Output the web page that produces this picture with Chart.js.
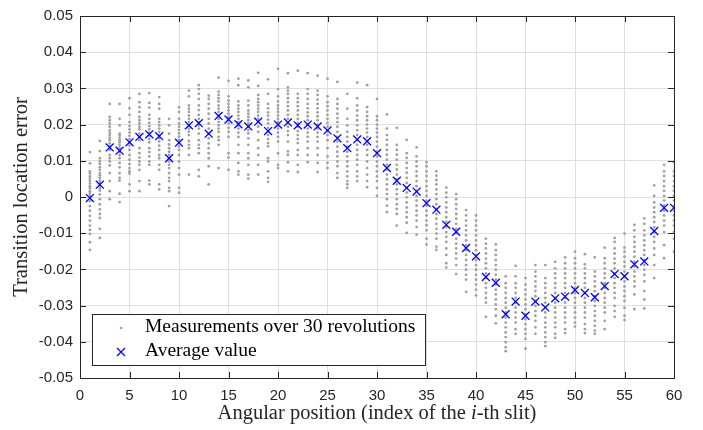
<!DOCTYPE html>
<html>
<head>
<meta charset="utf-8">
<script src="https://cdn.jsdelivr.net/npm/chart.js@4.4.1/dist/chart.umd.min.js"></script>
<style>
  html, body { margin: 0; padding: 0; background: #fff; }
  #wrap { width: 703px; height: 430px; }
</style>
</head>
<body>
<div id="wrap"><canvas id="chart" width="703" height="430"></canvas></div>
<script>
const slits = [1, 2, 3, 4, 5, 6, 7, 8, 9, 10, 11, 12, 13, 14, 15, 16, 17, 18, 19, 20,
  21, 22, 23, 24, 25, 26, 27, 28, 29, 30, 31, 32, 33, 34, 35, 36, 37, 38, 39, 40,
  41, 42, 43, 44, 45, 46, 47, 48, 49, 50, 51, 52, 53, 54, 55, 56, 57, 58, 59, 60];

const averages = [
  -0.0003, 0.0034, 0.0137, 0.0128, 0.0151, 0.0166, 0.0173, 0.0168, 0.0107, 0.0150,
  0.0198, 0.0204, 0.0175, 0.0224, 0.0214, 0.0201, 0.0195, 0.0208, 0.0182, 0.0200,
  0.0206, 0.0198, 0.0200, 0.0195, 0.0184, 0.0162, 0.0135, 0.0159, 0.0154, 0.0121,
  0.0080, 0.0045, 0.0025, 0.0015, -0.0017, -0.0035, -0.0077, -0.0096, -0.0141, -0.0164,
  -0.0221, -0.0237, -0.0324, -0.0289, -0.0328, -0.0289, -0.0305, -0.0280, -0.0275, -0.0257,
  -0.0265, -0.0277, -0.0246, -0.0213, -0.0219, -0.0186, -0.0178, -0.0094, -0.0030, -0.0030
];

// visible dots of each slit (30 revolutions, many overlap)
const measurements = [
  [0.0124, 0.0093, 0.0071, 0.0065, 0.0057, 0.0051, 0.0044, 0.0037, 0.003, 0.0024, 0.0016, 0.001, 0.0003, -0.0011, -0.0025, -0.0038, -0.0052, -0.0065, -0.0079, -0.0091, -0.0102, -0.0125, -0.0146],
  [0.0155, 0.0127, 0.0107, 0.0098, 0.0091, 0.0082, 0.0075, 0.0066, 0.006, 0.0053, 0.0045, 0.0039, 0.0032, 0.0025, 0.0018, 0.0007, -0.0006, -0.002, -0.0034, -0.0047, -0.0058, -0.0088, -0.0113],
  [0.0257, 0.0221, 0.0212, 0.0203, 0.0194, 0.0185, 0.0178, 0.0171, 0.0164, 0.0157, 0.0148, 0.0139, 0.013, 0.0116, 0.0107, 0.0098, 0.0087, 0.0066, 0.0044, 0.0016, -0.0006],
  [0.0257, 0.0216, 0.0198, 0.0175, 0.0171, 0.0164, 0.0157, 0.0151, 0.0144, 0.0136, 0.013, 0.0124, 0.0116, 0.0107, 0.0094, 0.0082, 0.0066, 0.0053, 0.0045, 0.0009, -0.0014],
  [0.0273, 0.0245, 0.0227, 0.0207, 0.0196, 0.0187, 0.0178, 0.0169, 0.016, 0.0151, 0.0142, 0.013, 0.0116, 0.0103, 0.0091, 0.008, 0.0071, 0.0065, 0.0035, 0.0016],
  [0.0285, 0.0262, 0.0248, 0.0235, 0.0221, 0.0212, 0.0203, 0.0194, 0.0187, 0.0175, 0.0166, 0.0157, 0.0135, 0.0121, 0.0109, 0.0098, 0.0089, 0.0075, 0.0044, 0.0016],
  [0.0287, 0.026, 0.0247, 0.0227, 0.0216, 0.0205, 0.0196, 0.0187, 0.0178, 0.0169, 0.016, 0.0151, 0.0135, 0.0124, 0.0112, 0.0098, 0.0089, 0.0045, 0.0035],
  [0.0276, 0.0257, 0.0244, 0.0216, 0.0207, 0.0198, 0.0189, 0.018, 0.0171, 0.0162, 0.0153, 0.0142, 0.013, 0.0116, 0.0107, 0.0089, 0.0075, 0.0035, 0.0021],
  [0.0216, 0.0198, 0.0175, 0.0157, 0.0145, 0.0135, 0.0125, 0.0116, 0.0107, 0.0098, 0.0089, 0.008, 0.0066, 0.0053, 0.0044, 0.0025, 0.0016, -0.0025],
  [0.0248, 0.0235, 0.0216, 0.0203, 0.0194, 0.0185, 0.0176, 0.0167, 0.0158, 0.0149, 0.014, 0.013, 0.0116, 0.0098, 0.008, 0.0062, 0.0025, 0.0012],
  [0.0294, 0.0278, 0.0253, 0.0244, 0.0235, 0.0225, 0.0216, 0.0207, 0.0198, 0.0189, 0.018, 0.0171, 0.0155, 0.0144, 0.0135, 0.0116, 0.0062],
  [0.0309, 0.0298, 0.0285, 0.0271, 0.0253, 0.024, 0.0227, 0.0216, 0.0207, 0.0198, 0.0189, 0.0175, 0.0157, 0.0144, 0.0135, 0.0121, 0.0075, 0.0057],
  [0.028, 0.0271, 0.0257, 0.0244, 0.023, 0.0216, 0.0203, 0.0189, 0.0175, 0.0162, 0.0148, 0.0135, 0.0121, 0.0107, 0.0085, 0.0035],
  [0.033, 0.0291, 0.0282, 0.0273, 0.0264, 0.0253, 0.0244, 0.0235, 0.0225, 0.0216, 0.0207, 0.0198, 0.0189, 0.018, 0.0166, 0.0157, 0.0144, 0.008],
  [0.0321, 0.0278, 0.0266, 0.0257, 0.0248, 0.0239, 0.023, 0.0221, 0.0212, 0.0203, 0.0191, 0.018, 0.0166, 0.0121, 0.0109, 0.0075],
  [0.0327, 0.0309, 0.0264, 0.0253, 0.0244, 0.0235, 0.0225, 0.0216, 0.0207, 0.0198, 0.0189, 0.0178, 0.0166, 0.0144, 0.0121, 0.0094, 0.0071, 0.0062],
  [0.0322, 0.0303, 0.0266, 0.0253, 0.0239, 0.023, 0.0221, 0.0212, 0.0203, 0.0194, 0.0185, 0.0176, 0.0162, 0.0144, 0.0121, 0.0107, 0.0089, 0.0062, 0.0051],
  [0.0343, 0.0307, 0.0282, 0.0271, 0.0262, 0.0253, 0.0244, 0.0235, 0.0225, 0.0216, 0.0207, 0.0194, 0.018, 0.0157, 0.0135, 0.0116, 0.0089, 0.0062],
  [0.0325, 0.0285, 0.0257, 0.0245, 0.0234, 0.0225, 0.0214, 0.0203, 0.0191, 0.018, 0.0171, 0.016, 0.0149, 0.014, 0.0107, 0.0098, 0.0071, 0.0053, 0.0042],
  [0.0354, 0.0298, 0.0278, 0.0264, 0.0253, 0.0244, 0.0235, 0.0225, 0.0216, 0.0207, 0.0198, 0.0189, 0.0178, 0.0166, 0.0153, 0.0121, 0.0089, 0.008],
  [0.0342, 0.0303, 0.0294, 0.0285, 0.0273, 0.0262, 0.0251, 0.0239, 0.0227, 0.0216, 0.0205, 0.0194, 0.0182, 0.0171, 0.0153, 0.0126, 0.0116, 0.0096, 0.0071],
  [0.0349, 0.0285, 0.0273, 0.0262, 0.0251, 0.0239, 0.0227, 0.0216, 0.0205, 0.0194, 0.0182, 0.0171, 0.016, 0.0149, 0.013, 0.0116, 0.0089, 0.0069],
  [0.0342, 0.0298, 0.0285, 0.0271, 0.0257, 0.0245, 0.0234, 0.0223, 0.0212, 0.02, 0.0189, 0.0178, 0.0166, 0.0153, 0.0135, 0.0116, 0.0096],
  [0.0335, 0.0294, 0.0282, 0.0269, 0.0257, 0.0245, 0.0234, 0.0223, 0.0212, 0.02, 0.0189, 0.0178, 0.0166, 0.0153, 0.0135, 0.0116, 0.0094, 0.0069],
  [0.0327, 0.0278, 0.0262, 0.0251, 0.0239, 0.0227, 0.0216, 0.0205, 0.0194, 0.0182, 0.0171, 0.0157, 0.0135, 0.0112, 0.0094, 0.008],
  [0.0318, 0.0271, 0.0257, 0.0244, 0.023, 0.0218, 0.0207, 0.0194, 0.018, 0.0166, 0.0153, 0.0139, 0.0125, 0.0112, 0.0098, 0.0085, 0.0066, 0.0053],
  [0.0285, 0.0244, 0.0216, 0.0198, 0.018, 0.0166, 0.0153, 0.0139, 0.0125, 0.0112, 0.0098, 0.0085, 0.0071, 0.0057, 0.0044, 0.0035, 0.0025],
  [0.0316, 0.0273, 0.0253, 0.0239, 0.0225, 0.0212, 0.0198, 0.0185, 0.0171, 0.0157, 0.0144, 0.013, 0.0116, 0.0103, 0.0089, 0.0071, 0.0057, 0.0044],
  [0.0309, 0.0248, 0.0235, 0.0223, 0.0212, 0.02, 0.0189, 0.0178, 0.0166, 0.0155, 0.0144, 0.013, 0.0116, 0.0098, 0.008, 0.0062, 0.0044, 0.0027],
  [0.0271, 0.0223, 0.0212, 0.02, 0.0189, 0.0178, 0.0166, 0.0153, 0.0139, 0.0125, 0.0112, 0.0098, 0.0085, 0.0071, 0.0057, 0.0044, 0.0025, 0.0003],
  [0.0228, 0.0189, 0.0171, 0.0158, 0.0144, 0.013, 0.0117, 0.0103, 0.0089, 0.0076, 0.0062, 0.0049, 0.0035, 0.0021, 0.0008, -0.0006, -0.0024, -0.0042],
  [0.0191, 0.0144, 0.013, 0.0117, 0.0103, 0.0089, 0.0076, 0.0062, 0.0049, 0.0035, 0.0021, 0.0008, -0.0006, -0.002, -0.0033, -0.0047, -0.0079],
  [0.0158, 0.0121, 0.0108, 0.0094, 0.008, 0.0067, 0.0053, 0.0039, 0.0026, 0.0012, -0.0001, -0.0015, -0.0029, -0.0042, -0.0056, -0.0071, -0.0099],
  [0.0137, 0.0112, 0.0098, 0.0085, 0.0071, 0.0058, 0.0044, 0.003, 0.0017, 0.0003, -0.001, -0.0024, -0.0038, -0.0051, -0.0065, -0.0083, -0.0104],
  [0.0096, 0.0085, 0.0071, 0.0058, 0.0044, 0.003, 0.0017, 0.0003, -0.001, -0.0024, -0.0038, -0.0051, -0.0065, -0.0078, -0.0092, -0.0115, -0.0131],
  [0.0071, 0.0059, 0.0047, 0.0035, 0.0021, 0.0008, -0.0006, -0.002, -0.0033, -0.0047, -0.006, -0.0074, -0.0088, -0.0101, -0.0115, -0.0137, -0.0146],
  [0.0026, 0.0012, -0.0001, -0.0015, -0.0029, -0.0042, -0.0056, -0.0069, -0.0083, -0.0097, -0.011, -0.0124, -0.0142, -0.016, -0.0183, -0.0195],
  [0.0008, -0.0006, -0.002, -0.0033, -0.0047, -0.006, -0.0074, -0.0088, -0.0101, -0.0115, -0.0129, -0.0142, -0.0156, -0.017, -0.0188, -0.0213],
  [-0.0036, -0.0051, -0.0065, -0.0079, -0.0092, -0.0106, -0.012, -0.0133, -0.0147, -0.016, -0.0174, -0.0188, -0.0201, -0.0215, -0.0228, -0.0262],
  [-0.0051, -0.0065, -0.0079, -0.0092, -0.0106, -0.012, -0.0133, -0.0147, -0.016, -0.0174, -0.0188, -0.0201, -0.0215, -0.0228, -0.0242, -0.0256, -0.0272],
  [-0.0115, -0.0129, -0.0142, -0.0156, -0.017, -0.0183, -0.0197, -0.0211, -0.0224, -0.0238, -0.0251, -0.0265, -0.0279, -0.0292, -0.0331],
  [-0.0131, -0.0147, -0.016, -0.0174, -0.0188, -0.0201, -0.0215, -0.0228, -0.0242, -0.0256, -0.0269, -0.0283, -0.0297, -0.031, -0.0328, -0.0349],
  [-0.0219, -0.0238, -0.0251, -0.0265, -0.0279, -0.0292, -0.0306, -0.0319, -0.0333, -0.0347, -0.036, -0.0374, -0.0387, -0.0401, -0.0415, -0.0426],
  [-0.019, -0.0219, -0.0238, -0.0251, -0.0265, -0.0279, -0.0292, -0.0306, -0.0319, -0.0333, -0.0347, -0.0365, -0.0378],
  [-0.0224, -0.0242, -0.0256, -0.0269, -0.0283, -0.0297, -0.031, -0.0324, -0.0338, -0.0351, -0.0365, -0.0378, -0.0392, -0.0419],
  [-0.0188, -0.0206, -0.0219, -0.0233, -0.0247, -0.026, -0.0274, -0.0287, -0.0301, -0.0315, -0.0328, -0.0342, -0.036, -0.0378],
  [-0.0188, -0.0224, -0.0238, -0.0251, -0.0265, -0.0279, -0.0292, -0.0306, -0.0319, -0.0333, -0.0347, -0.036, -0.0374, -0.0387, -0.0401, -0.0412],
  [-0.0179, -0.0197, -0.0211, -0.0224, -0.0238, -0.0251, -0.0265, -0.0279, -0.0292, -0.0306, -0.0319, -0.0333, -0.0347, -0.036, -0.0378, -0.0389],
  [-0.0167, -0.0183, -0.0197, -0.0211, -0.0224, -0.0238, -0.0251, -0.0265, -0.0279, -0.0292, -0.0306, -0.0319, -0.0333, -0.0347, -0.0365, -0.0376],
  [-0.0151, -0.0169, -0.0183, -0.0197, -0.0211, -0.0224, -0.0238, -0.0251, -0.0265, -0.0279, -0.0292, -0.0306, -0.0319, -0.0333, -0.0347, -0.0358],
  [-0.0158, -0.0186, -0.0197, -0.0211, -0.0224, -0.0238, -0.0251, -0.0265, -0.0279, -0.0292, -0.0306, -0.0319, -0.0333, -0.0351, -0.0365, -0.0376],
  [-0.0167, -0.0206, -0.0219, -0.0233, -0.0247, -0.026, -0.0274, -0.0287, -0.0301, -0.0315, -0.0328, -0.0342, -0.0356, -0.0369, -0.0378],
  [-0.014, -0.0169, -0.0183, -0.0197, -0.0211, -0.0224, -0.0238, -0.0251, -0.0265, -0.0279, -0.0292, -0.0306, -0.0319, -0.0342, -0.0365],
  [-0.0113, -0.0124, -0.0142, -0.0156, -0.017, -0.0183, -0.0197, -0.0211, -0.0224, -0.0238, -0.0251, -0.0265, -0.0279, -0.0301, -0.0315, -0.0331],
  [-0.0101, -0.014, -0.0151, -0.0165, -0.0179, -0.0192, -0.0206, -0.0219, -0.0233, -0.0247, -0.026, -0.0274, -0.0287, -0.0306, -0.0328, -0.034],
  [-0.0077, -0.0092, -0.011, -0.0124, -0.0138, -0.0151, -0.0165, -0.0179, -0.0192, -0.0206, -0.0219, -0.0233, -0.0247, -0.0269, -0.031],
  [-0.0059, -0.0074, -0.0092, -0.0106, -0.012, -0.0133, -0.0147, -0.016, -0.0174, -0.0188, -0.0201, -0.0215, -0.0233, -0.026, -0.0283, -0.0308],
  [0.0032, 0.0003, -0.0015, -0.0029, -0.0042, -0.0056, -0.0069, -0.0083, -0.0097, -0.011, -0.0124, -0.0142, -0.016, -0.0188, -0.0224],
  [0.0089, 0.0071, 0.0058, 0.0044, 0.003, 0.0017, 0.0003, -0.001, -0.0024, -0.0038, -0.0051, -0.0065, -0.0079, -0.0097, -0.0133, -0.0169],
  [0.0096, 0.0071, 0.0058, 0.0044, 0.003, 0.0017, 0.0003, -0.001, -0.0024, -0.0038, -0.0051, -0.0065, -0.0079, -0.0097, -0.0115, -0.0151]
];

const seriesNames = ['Measurements over 30 revolutions', 'Average value'];
const xTitle = ['Angular position (index of the ', 'i', '-th slit)'];
const yTitle = 'Transition location error';

const axisColor = '#262626';
const serif = '"Liberation Serif", "Times New Roman", serif';

const measPoints = [];
slits.forEach((s, i) => {
  measurements[i].forEach(v => measPoints.push({ x: s, y: v }));
});
const avgPoints = slits.map((s, i) => ({ x: s, y: averages[i] }));

// frame, inward ticks, titles and legend box (MATLAB look)
const decorations = {
  id: 'decorations',
  afterDraw(chart) {
    const { ctx, chartArea: a, scales } = chart;
    const tl = 6;
    ctx.save();
    ctx.strokeStyle = axisColor;
    ctx.lineWidth = 1;
    ctx.beginPath();
    scales.x.ticks.forEach(t => {
      const px = Math.round(scales.x.getPixelForValue(t.value)) + 0.5;
      ctx.moveTo(px, a.bottom); ctx.lineTo(px, a.bottom - tl);
      ctx.moveTo(px, a.top); ctx.lineTo(px, a.top + tl);
    });
    scales.y.ticks.forEach(t => {
      const py = Math.round(scales.y.getPixelForValue(t.value)) + 0.5;
      ctx.moveTo(a.left, py); ctx.lineTo(a.left + tl, py);
      ctx.moveTo(a.right, py); ctx.lineTo(a.right - tl, py);
    });
    ctx.stroke();
    ctx.strokeRect(Math.round(a.left) + 0.5, Math.round(a.top) + 0.5,
      Math.round(a.right - a.left), Math.round(a.bottom - a.top));

    // legend
    const lx = 92.5, ly = 314.5, lw = 333, lh = 51;
    ctx.fillStyle = '#fff';
    ctx.fillRect(lx, ly, lw, lh);
    ctx.strokeRect(lx, ly, lw, lh);
    ctx.fillStyle = '#9f9f9f';
    ctx.beginPath();
    ctx.arc(121, 328, 1.3, 0, Math.PI * 2);
    ctx.fill();
    ctx.strokeStyle = '#0000ff';
    ctx.lineWidth = 1.2;
    ctx.beginPath();
    ctx.moveTo(117, 348); ctx.lineTo(125, 356);
    ctx.moveTo(125, 348); ctx.lineTo(117, 356);
    ctx.stroke();
    ctx.fillStyle = '#000';
    ctx.font = '19.5px ' + serif;
    ctx.textBaseline = 'middle';
    ctx.textAlign = 'left';
    ctx.fillText(chart.data.datasets[1].label, 145, 327);
    ctx.fillText(chart.data.datasets[0].label, 145, 351);

    // x title with italic i
    ctx.fillStyle = '#262626';
    const fN = '20.5px ' + serif, fI = 'italic 20.5px ' + serif;
    ctx.font = fN; const w0 = ctx.measureText(xTitle[0]).width;
    ctx.font = fI; const w1 = ctx.measureText(xTitle[1]).width;
    ctx.font = fN; const w2 = ctx.measureText(xTitle[2]).width;
    let x0 = (a.left + a.right) / 2 - (w0 + w1 + w2) / 2;
    const ty = 414;
    ctx.font = fN; ctx.fillText(xTitle[0], x0, ty);
    ctx.font = fI; ctx.fillText(xTitle[1], x0 + w0, ty);
    ctx.font = fN; ctx.fillText(xTitle[2], x0 + w0 + w1, ty);

    // y title
    ctx.save();
    ctx.translate(22, (a.top + a.bottom) / 2);
    ctx.rotate(-Math.PI / 2);
    ctx.textAlign = 'center';
    ctx.font = fN;
    ctx.fillText(yTitle, 0, 0);
    ctx.restore();
    ctx.restore();
  }
};

Chart.defaults.font.family = '"Liberation Sans", Arial, sans-serif';
Chart.defaults.font.size = 15;
Chart.defaults.color = axisColor;

new Chart(document.getElementById('chart'), {
  type: 'scatter',
  data: {
    datasets: [
      {
        label: seriesNames[1],
        data: avgPoints,
        pointStyle: 'crossRot',
        pointRadius: 5.6,
        pointBorderWidth: 1.3,
        borderColor: '#0000ff',
        backgroundColor: '#0000ff',
        order: 0
      },
      {
        label: seriesNames[0],
        data: measPoints,
        pointStyle: 'circle',
        pointRadius: 1.4,
        pointBorderWidth: 0,
        borderColor: '#a0a0a0',
        backgroundColor: '#a0a0a0',
        order: 1
      }
    ]
  },
  options: {
    responsive: false,
    animation: false,
    layout: { padding: { top: 11, right: 29, left: 0, bottom: 0 } },
    plugins: { legend: { display: false }, tooltip: { enabled: false } },
    scales: {
      x: {
        type: 'linear',
        min: 0, max: 60,
        border: { display: false },
        grid: { color: '#dfdfdf', drawTicks: false },
        ticks: { stepSize: 5, padding: 9, maxRotation: 0 },
        afterFit: s => { s.height = 52; }
      },
      y: {
        min: -0.05, max: 0.05,
        border: { display: false },
        grid: { color: '#dfdfdf', drawTicks: false },
        ticks: {
          stepSize: 0.01,
          padding: 7,
          callback: v => String(parseFloat(v.toFixed(2)))
        },
        afterFit: s => { s.width = 80; }
      }
    }
  },
  plugins: [decorations]
});
</script>
</body>
</html>
